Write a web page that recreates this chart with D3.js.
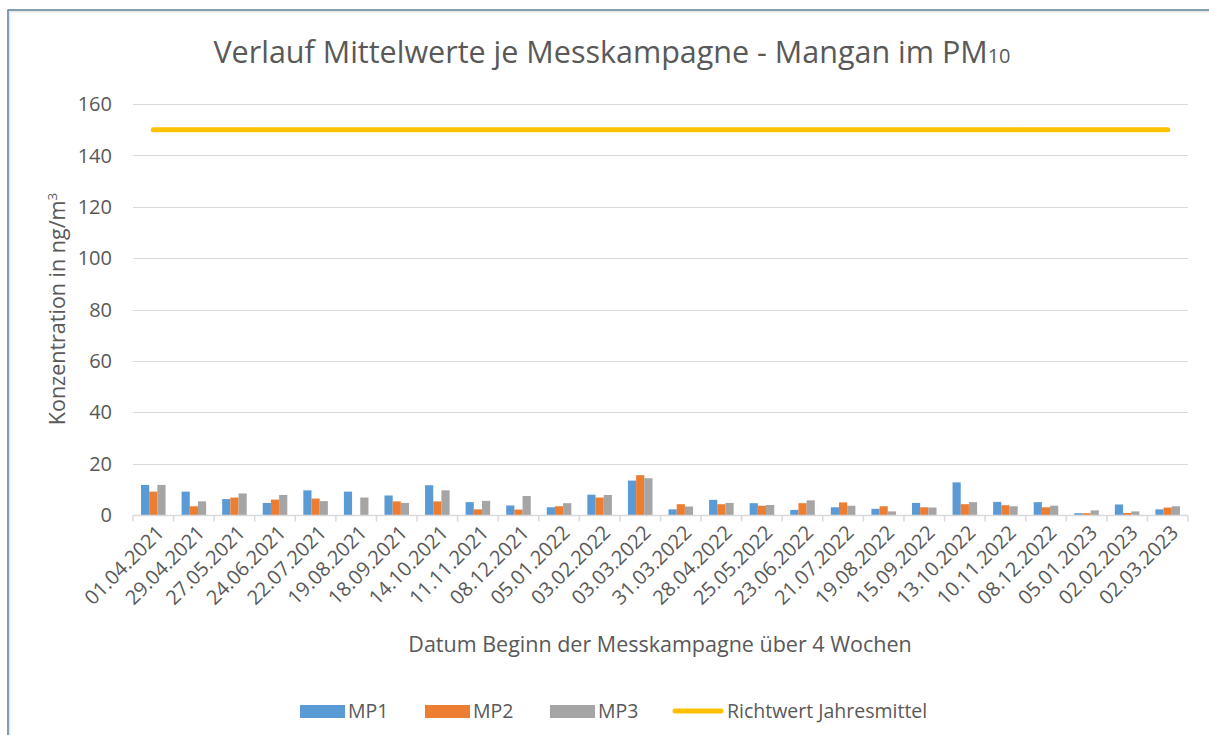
<!DOCTYPE html>
<html>
<head>
<meta charset="utf-8">
<script src="https://cdn.jsdelivr.net/npm/d3@7"></script>
<style>
  body { margin: 0; background: #fff; }
  svg { display: block; font-family: "Open Sans", Lato, sans-serif; }
</style>
</head>
<body>
<div id="chart"></div>
<script>
// categories: start date of each 4-week campaign
const dates = ['01.04.2021', '29.04.2021', '27.05.2021', '24.06.2021', '22.07.2021', '19.08.2021',
  '18.09.2021', '14.10.2021', '11.11.2021', '08.12.2021', '05.01.2022', '03.02.2022', '03.03.2022',
  '31.03.2022', '28.04.2022', '25.05.2022', '23.06.2022', '21.07.2022', '19.08.2022', '15.09.2022',
  '13.10.2022', '10.11.2022', '08.12.2022', '05.01.2023', '02.02.2023', '02.03.2023'];

// mean values in ng/m3
const mp1 = [11.7, 9.1, 6.2, 4.7, 9.6, 9.1, 7.6, 11.6, 5.0, 3.7, 3.0, 7.9, 13.4,
  2.2, 5.9, 4.6, 2.0, 3.0, 2.4, 4.7, 12.7, 5.1, 5.0, 0.7, 4.1, 2.2];
const mp2 = [9.1, 3.4, 6.8, 6.0, 6.4, 0, 5.3, 5.3, 2.2, 2.1, 3.4, 6.8, 15.5,
  4.2, 4.2, 3.6, 4.6, 4.9, 3.4, 3.0, 4.2, 3.8, 3.0, 0.7, 0.8, 2.9];
const mp3 = [11.7, 5.3, 8.4, 7.8, 5.4, 6.8, 4.7, 9.6, 5.5, 7.4, 4.6, 7.8, 14.3,
  3.3, 4.7, 3.9, 5.7, 3.6, 1.4, 2.9, 5.0, 3.4, 3.6, 1.8, 1.4, 3.4];
const richtwert = dates.map(() => 150);   // guide value, constant

const yTicks = [0, 20, 40, 60, 80, 100, 120, 140, 160];
const seriesNames = ['MP1', 'MP2', 'MP3'];
const colors = { MP1: '#5B9BD5', MP2: '#ED7D31', MP3: '#A5A5A5', line: '#FFC000' };

const W = 1209, H = 735;
const plot = { left: 133, right: 1188, top: 104, bottom: 515 };
const textColor = '#595959';

const svg = d3.select('#chart').append('svg')
  .attr('width', W)
  .attr('height', H);

// chart frame
svg.append('rect')
  .attr('x', 8).attr('y', 10)
  .attr('width', W + 20).attr('height', H + 20)
  .attr('fill', 'none')
  .attr('stroke', '#5b7f98')
  .attr('stroke-width', 1.5);
svg.append('rect')
  .attr('x', 9.8).attr('y', 11.8)
  .attr('width', W + 20).attr('height', H + 20)
  .attr('fill', 'none')
  .attr('stroke', '#d9dde0')
  .attr('stroke-width', 1);

const x0 = d3.scaleBand()
  .domain(dates)
  .range([plot.left, plot.right])
  .padding(0);

const groupW = x0.bandwidth() * 0.605;
const x1 = d3.scaleBand()
  .domain(seriesNames)
  .range([(x0.bandwidth() - groupW) / 2, (x0.bandwidth() + groupW) / 2])
  .padding(0);

const y = d3.scaleLinear()
  .domain([0, 160])
  .range([plot.bottom, plot.top]);

// gridlines
svg.append('g')
  .selectAll('line')
  .data(yTicks.filter(d => d > 0))
  .enter().append('line')
  .attr('x1', plot.left).attr('x2', plot.right)
  .attr('y1', d => Math.round(y(d)) + 0.5)
  .attr('y2', d => Math.round(y(d)) + 0.5)
  .attr('stroke', '#d9d9d9')
  .attr('stroke-width', 1);

// y tick labels
svg.append('g')
  .selectAll('text')
  .data(yTicks)
  .enter().append('text')
  .attr('x', 112)
  .attr('y', d => y(d))
  .attr('dy', '0.36em')
  .attr('text-anchor', 'end')
  .attr('font-size', 20)
  .attr('fill', textColor)
  .text(d => d);

// bars
const rows = dates.map((d, i) => ({ date: d, MP1: mp1[i], MP2: mp2[i], MP3: mp3[i] }));

svg.append('g')
  .selectAll('g')
  .data(rows)
  .enter().append('g')
  .attr('transform', d => 'translate(' + x0(d.date) + ',0)')
  .selectAll('rect')
  .data(d => seriesNames.map(k => ({ key: k, value: d[k] })))
  .enter().append('rect')
  .attr('x', d => x1(d.key))
  .attr('width', x1.bandwidth())
  .attr('y', d => y(d.value))
  .attr('height', d => y(0) - y(d.value))
  .attr('fill', d => colors[d.key]);

// x axis (baseline + ticks between categories)
const xAxis = svg.append('g')
  .attr('transform', 'translate(0,' + (Math.round(y(0)) + 0.5) + ')');
xAxis.append('line')
  .attr('x1', plot.left).attr('x2', plot.right)
  .attr('stroke', '#d9d9d9')
  .attr('stroke-width', 1.5);
xAxis.selectAll('.tick')
  .data(dates.concat(['end']))
  .enter().append('line')
  .attr('x1', (d, i) => plot.left + i * x0.step())
  .attr('x2', (d, i) => plot.left + i * x0.step())
  .attr('y1', 0).attr('y2', 6)
  .attr('stroke', '#d9d9d9')
  .attr('stroke-width', 1.5);

// x tick labels, rotated
svg.append('g')
  .selectAll('text')
  .data(dates)
  .enter().append('text')
  .attr('transform', d => 'translate(' + (x0(d) + x0.bandwidth() / 2 + 7) + ',' + 529 + ') rotate(-45)')
  .attr('text-anchor', 'end')
  .attr('dy', '0.35em')
  .attr('font-size', 20)
  .attr('fill', textColor)
  .text(d => d);

// guide value line
const line = d3.line()
  .x((d, i) => x0(dates[i]) + x0.bandwidth() / 2)
  .y(d => y(d));

svg.append('path')
  .datum(richtwert)
  .attr('d', line)
  .attr('fill', 'none')
  .attr('stroke', colors.line)
  .attr('stroke-width', 5)
  .attr('stroke-linecap', 'round');

// title
const title = svg.append('text')
  .attr('x', 612)
  .attr('y', 63)
  .attr('text-anchor', 'middle')
  .attr('font-size', 30.5)
  .attr('fill', textColor);
title.append('tspan').text('Verlauf Mittelwerte je Messkampagne - Mangan im PM');
title.append('tspan').attr('font-size', 20).text('10');

// axis titles
svg.append('text')
  .attr('x', 660)
  .attr('y', 652)
  .attr('text-anchor', 'middle')
  .attr('font-size', 21.5)
  .attr('fill', textColor)
  .text('Datum Beginn der Messkampagne über 4 Wochen');

const yTitle = svg.append('text')
  .attr('transform', 'translate(65,309) rotate(-90)')
  .attr('text-anchor', 'middle')
  .attr('font-size', 21.5)
  .attr('fill', textColor);
yTitle.append('tspan').text('Konzentration in ng/m');
yTitle.append('tspan').attr('font-size', 13.5).attr('dy', -8).text('3');

// legend
const legendItems = [
  { name: 'MP1', x: 300, type: 'rect', color: colors.MP1 },
  { name: 'MP2', x: 425, type: 'rect', color: colors.MP2 },
  { name: 'MP3', x: 550, type: 'rect', color: colors.MP3 },
  { name: 'Richtwert Jahresmittel', x: 672, type: 'line', color: colors.line }
];
const legend = svg.append('g');
legendItems.forEach(it => {
  if (it.type === 'rect') {
    legend.append('rect')
      .attr('x', it.x).attr('y', 705)
      .attr('width', 45).attr('height', 13)
      .attr('fill', it.color);
  } else {
    legend.append('line')
      .attr('x1', it.x + 3).attr('x2', it.x + 49)
      .attr('y1', 711).attr('y2', 711)
      .attr('stroke', it.color)
      .attr('stroke-width', 5)
      .attr('stroke-linecap', 'round');
  }
  legend.append('text')
    .attr('x', it.x + (it.type === 'rect' ? 48 : 55))
    .attr('y', 711)
    .attr('dy', '0.36em')
    .attr('font-size', 19.5)
    .attr('fill', textColor)
    .text(it.name);
});
</script>
</body>
</html>
